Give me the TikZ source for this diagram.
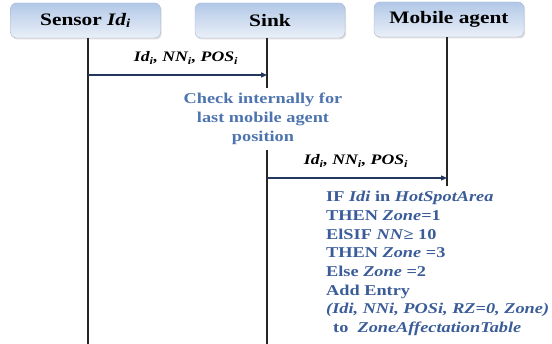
\documentclass[tikz,border=0pt]{standalone}
\usepackage{fontspec}
\setmainfont{Liberation Serif}[FakeStretch=1.22]
\usetikzlibrary{arrows.meta,shadows}
\definecolor{boxtop}{RGB}{178,200,231}
\definecolor{boxbot}{RGB}{234,240,248}
\definecolor{boxline}{RGB}{165,182,208}
\definecolor{txtblue}{RGB}{58,92,152}
\definecolor{chkblue}{RGB}{78,116,176}
\definecolor{arrowc}{RGB}{35,55,95}
\begin{document}
\begin{tikzpicture}[x=1pt,y=-1pt,
  hdr/.style={draw=boxline, line width=0.4pt, rounded corners=6pt, top color=boxtop, bottom color=boxbot,
    minimum width=150pt, minimum height=35pt, inner sep=0pt,
    font=\fontsize{17.5}{20}\selectfont\bfseries,
    drop shadow={opacity=0.25, shadow xshift=1.2pt, shadow yshift=-1.5pt}},
  life/.style={line width=1.1pt, black!85},
  msg/.style={line width=1.2pt, arrowc, -{Triangle[length=6pt,width=5pt]}},
  lbl/.style={font=\fontsize{14.5}{16}\selectfont\bfseries\itshape, inner sep=0pt},
  chk/.style={font=\fontsize{15}{19}\selectfont\bfseries, text=chkblue, align=center, inner sep=0pt},
  blk/.style={font=\fontsize{15}{18.7}\selectfont\bfseries, text=txtblue, align=left, inner sep=0pt, anchor=north west}
]
\useasboundingbox (0,0) rectangle (552,344);

\node[hdr] (sensor) at (85.5,20.5) {Sensor \textit{Id\textsubscript{i}}};
\node[hdr] (sink) at (270,20.5) {Sink};
\node[hdr] (mobile) at (449,19.5) {Mobile agent};

\coordinate (s0) at (88,38);
\coordinate (s1) at (88,344);
\coordinate (k0) at (267,38);
\coordinate (k1) at (267,88);
\coordinate (k2) at (267,150);
\coordinate (k3) at (267,344);
\coordinate (m0) at (447,37);
\coordinate (m1) at (447,186);

\draw[life] (s0) -- (s1);
\draw[life] (k0) -- (k1);
\draw[life] (k2) -- (k3);
\draw[life] (m0) -- (m1);

\coordinate (a1s) at (88,75);
\coordinate (a1e) at (267,75);
\draw[msg] (a1s) -- (a1e);
\node[lbl] (l1) at (186,58) {Id\textsubscript{i}, NN\textsubscript{i}, POS\textsubscript{i}};

\node[chk] (check) at (263,119) {Check internally for\\last mobile agent\\position};

\coordinate (a2s) at (267,178);
\coordinate (a2e) at (447,178);
\draw[msg] (a2s) -- (a2e);
\node[lbl] (l2) at (356,161) {Id\textsubscript{i}, NN\textsubscript{i}, POS\textsubscript{i}};

\node[blk] (rule) at (326,191) {IF \textit{Idi} in \textit{HotSpotArea}\\
THEN \textit{Zone}=1\\
ElSIF \textit{NN}≥ 10\\
THEN \textit{Zone} =3\\
Else \textit{Zone} =2\\
Add Entry\\
\textit{(Idi, NNi, POSi, RZ=0, Zone)}\\
\hspace{7pt}to \ \textit{ZoneAffectationTable}};
\end{tikzpicture}
\end{document}
